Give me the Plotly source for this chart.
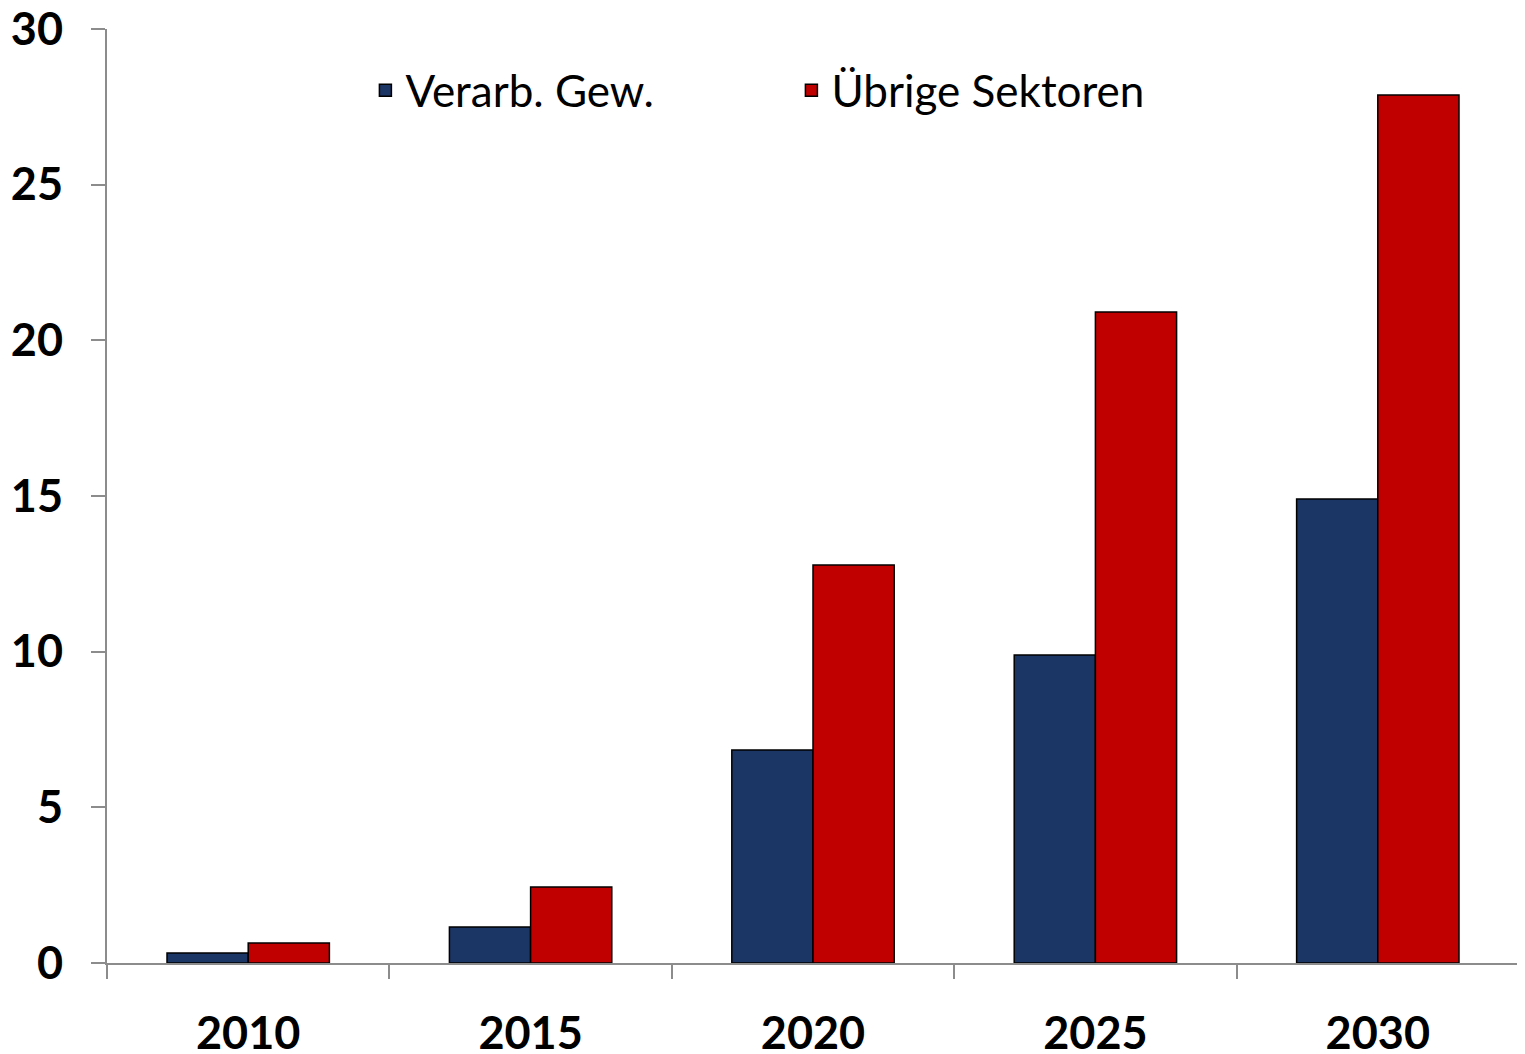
import plotly.graph_objects as go

years = ["2010", "2015", "2020", "2025", "2030"]
verarb = [0.32, 1.16, 6.84, 9.89, 14.9]
uebrige = [0.64, 2.44, 12.78, 20.91, 27.88]
series_names = ["Verarb. Gew.", "Übrige Sektoren"]
y_ticks = [0, 5, 10, 15, 20, 25, 30]

fig = go.Figure()
fig.add_trace(go.Bar(x=years, y=verarb, name=series_names[0],
                     marker=dict(color="#1B3564", line=dict(color="#000000", width=1.5))))
fig.add_trace(go.Bar(x=years, y=uebrige, name=series_names[1],
                     marker=dict(color="#C00000", line=dict(color="#000000", width=1.5))))

fig.update_layout(
    width=1525, height=1054,
    margin=dict(l=99, r=14, t=21, b=99, autoexpand=False),
    paper_bgcolor="white", plot_bgcolor="white",
    barmode="group", bargap=0.425, bargroupgap=0,
    font=dict(family="Lato, 'Open Sans', sans-serif", color="#000000"),
    showlegend=True,
    legend=dict(orientation="h", x=0.183, y=0.934, xanchor="left", yanchor="middle",
                font=dict(size=44, family="Lato, sans-serif"),
                entrywidth=381, entrywidthmode="pixels",
                bgcolor="rgba(0,0,0,0)"),
    xaxis=dict(type="category", showline=True, linecolor="#8c8c8c", linewidth=2,
               ticks="outside", tickson="boundaries", ticklen=14, tickcolor="#8c8c8c",
               tickwidth=2, showgrid=False, ticklabeloverflow="allow",
               tickfont=dict(size=45, family="Lato, sans-serif", weight="bold"),
               ticklabelstandoff=30),
    yaxis=dict(range=[0, 30], tickvals=y_ticks, showline=True, linecolor="#8c8c8c",
               linewidth=2, ticks="outside", ticklen=14, tickcolor="#8c8c8c", tickwidth=2,
               showgrid=False, zeroline=False, ticklabeloverflow="allow",
               tickfont=dict(size=45, family="Lato, sans-serif", weight="bold"),
               ticklabelstandoff=19),
)

fig.write_html("out.html")
